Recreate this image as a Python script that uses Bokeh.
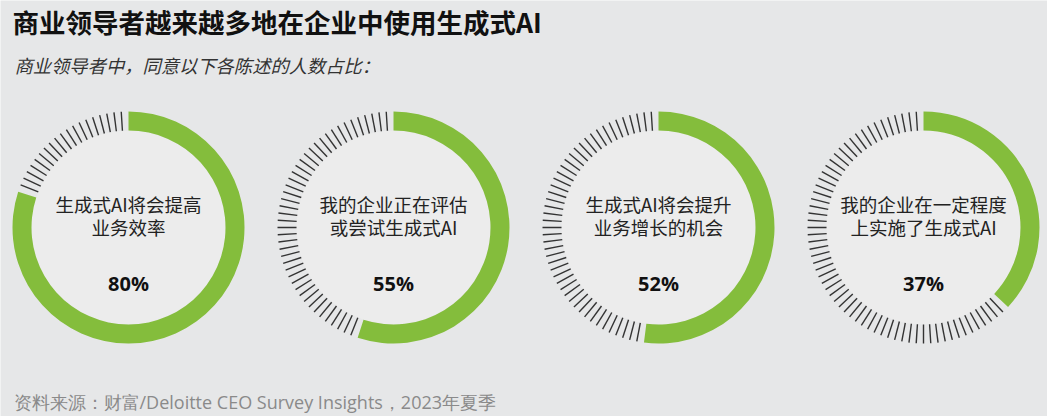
import math
from bokeh.plotting import figure
from bokeh.models import Range1d
from bokeh.core.properties import value
from bokeh.embed import file_html
from bokeh.resources import INLINE

# ---- data ----
labels_line1 = ["生成式AI将会提高", "我的企业正在评估", "生成式AI将会提升", "我的企业在一定程度"]
labels_line2 = ["业务效率", "或尝试生成式AI", "业务增长的机会", "上实施了生成式AI"]
percent_values = [80, 55, 52, 37]
title_text = "商业领导者越来越多地在企业中使用生成式AI"
subtitle_text = "商业领导者中，同意以下各陈述的人数占比："
source_text = "资料来源：财富/Deloitte CEO Survey Insights，2023年夏季"

# ---- layout ----
W, H = 1047, 416
CX0, DCX = 128, 265
CY_IMG = 227
R_OUT, R_IN = 116, 97
BG = "#e6e7e8"
INNER = "#ececec"
GREEN = "#84bd3c"
TICK = "#333333"
FONT = "Noto Sans CJK SC"

def Y(y):
    return H - y

p = figure(width=W, height=H, output_backend="svg", toolbar_location=None,
           x_range=Range1d(0, W), y_range=Range1d(0, H),
           x_axis_location=None, y_axis_location=None, min_border=0)
p.grid.visible = False
p.outline_line_color = None
p.background_fill_color = BG
p.border_fill_color = BG

cxs = [CX0 + DCX * i for i in range(len(percent_values))]
cys = [Y(CY_IMG)] * len(percent_values)

# inner lighter disc
p.circle(x=cxs, y=cys, radius=R_IN, fill_color=INNER, line_color=None)

# green arcs (clockwise from top)
starts = [math.pi / 2 - v / 100 * 2 * math.pi for v in percent_values]
ends = [math.pi / 2] * len(percent_values)
p.annular_wedge(x=cxs, y=cys, inner_radius=R_IN, outer_radius=R_OUT,
                start_angle=starts, end_angle=ends, direction="anticlock",
                fill_color=GREEN, line_color=None)

# tick marks over the remaining share, one per percent
x0, y0, x1, y1 = [], [], [], []
for cx, cy, v in zip(cxs, cys, percent_values):
    for k in range(v + 1, 100):
        a = math.pi / 2 - k / 100 * 2 * math.pi
        x0.append(cx + R_IN * math.cos(a)); y0.append(cy + R_IN * math.sin(a))
        x1.append(cx + R_OUT * math.cos(a)); y1.append(cy + R_OUT * math.sin(a))
p.segment(x0=x0, y0=y0, x1=x1, y1=y1, line_color=TICK, line_width=1.4)

# labels inside donuts
p.text(x=cxs, y=[Y(203)] * 4, text=labels_line1, text_font=value(FONT),
       text_font_size="18.5px", text_color="#222222", text_align="center", text_baseline="middle")
p.text(x=cxs, y=[Y(226)] * 4, text=labels_line2, text_font=value(FONT),
       text_font_size="18.5px", text_color="#222222", text_align="center", text_baseline="middle")
p.text(x=cxs, y=[Y(283)] * 4, text=[f"{v}%" for v in percent_values], text_font=value("Open Sans"),
       text_font_size="20px", text_font_style="bold", text_color="#111111",
       text_align="center", text_baseline="middle")

# title, subtitle, source
p.text(x=[12], y=[Y(21)], text=[title_text], text_font=value(FONT), text_font_size="26.5px",
       text_font_style="bold", text_color="#111111", text_align="left", text_baseline="middle")
p.text(x=[14], y=[Y(64)], text=[subtitle_text], text_font=value(FONT), text_font_size="18.3px",
       text_font_style="italic", text_color="#333333", text_align="left", text_baseline="middle")
p.text(x=[13], y=[Y(401)], text=[source_text], text_font=value("Open Sans"), text_font_size="18px",
       text_color="#8a8a8a", text_align="left", text_baseline="middle")

open("out.html", "w").write(file_html(p, INLINE))
